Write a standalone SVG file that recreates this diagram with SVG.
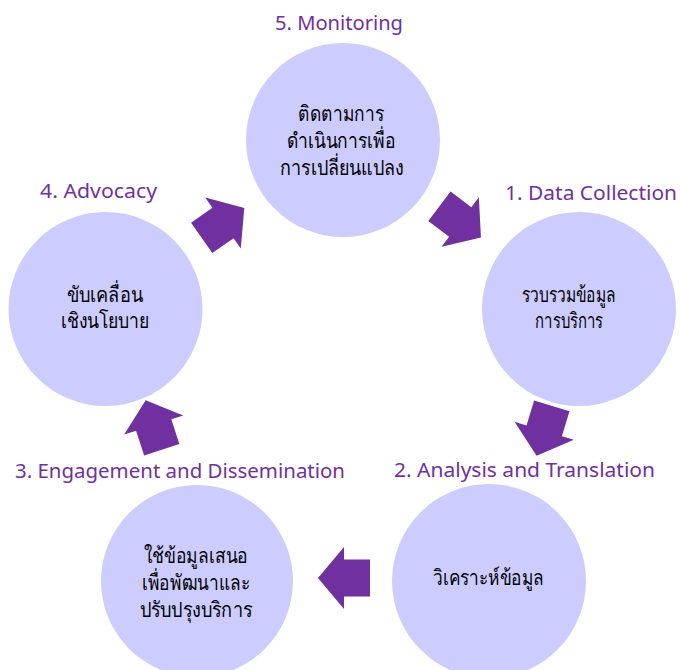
<svg xmlns="http://www.w3.org/2000/svg" xmlns:xlink="http://www.w3.org/1999/xlink" width="680" height="670" viewBox="0 0 680 670">
  <style>
    .node { fill: #CCCCFF; }
    .label { font-family: "Noto Sans", "Open Sans", sans-serif; font-size: 20px; fill: #7030A0; }
    .th { font-family: "Noto Sans", "DejaVu Sans", sans-serif; font-size: 21px; fill: #000000; text-anchor: middle; }
    .arrow { fill: #7030A0; }
  </style>
  <defs>
    <polygon id="arrow" points="-26,-18.5 0,-18.5 0,-31 26,0 0,31 0,18.5 -26,18.5"/>
  </defs>
  <rect width="680" height="670" fill="#FFFFFF"/>
  <g id="connectors" class="arrow">
    <use xlink:href="#arrow" transform="translate(460.2,221.9) rotate(37)"/>
    <use xlink:href="#arrow" transform="translate(544.2,430.8) rotate(107)"/>
    <use xlink:href="#arrow" transform="translate(344,578) rotate(180)"/>
    <use xlink:href="#arrow" transform="translate(153.7,425) rotate(252)"/>
    <use xlink:href="#arrow" transform="translate(223,223) rotate(325)"/>
  </g>
  <g id="node-monitoring">
    <circle class="node" cx="343" cy="140" r="97"/>
    <text class="label" x="275" y="30" textLength="128" lengthAdjust="spacingAndGlyphs">5. Monitoring</text>
    <text class="th" x="341" y="121" textLength="86" lengthAdjust="spacingAndGlyphs">ติดตามการ</text>
    <text class="th" x="341" y="148" textLength="109" lengthAdjust="spacingAndGlyphs">ดำเนินการเพื่อ</text>
    <text class="th" x="342" y="175" textLength="124" lengthAdjust="spacingAndGlyphs">การเปลี่ยนแปลง</text>
  </g>
  <g id="node-data-collection">
    <circle class="node" cx="579" cy="309" r="97"/>
    <text class="label" x="505" y="200" textLength="172" lengthAdjust="spacingAndGlyphs">1. Data Collection</text>
    <text class="th" x="569" y="302" textLength="94" lengthAdjust="spacingAndGlyphs">รวบรวมข้อมูล</text>
    <text class="th" x="569" y="328" textLength="68" lengthAdjust="spacingAndGlyphs">การบริการ</text>
  </g>
  <g id="node-analysis">
    <circle class="node" cx="489" cy="581" r="97"/>
    <text class="label" x="394" y="477" textLength="261" lengthAdjust="spacingAndGlyphs">2. Analysis and Translation</text>
    <text class="th" x="488.5" y="585" textLength="111" lengthAdjust="spacingAndGlyphs">วิเคราะห์ข้อมูล</text>
  </g>
  <g id="node-engagement">
    <circle class="node" cx="197" cy="581" r="96"/>
    <text class="label" x="15" y="478" textLength="330" lengthAdjust="spacingAndGlyphs">3. Engagement and Dissemination</text>
    <text class="th" x="196" y="563" textLength="104" lengthAdjust="spacingAndGlyphs">ใช้ข้อมูลเสนอ</text>
    <text class="th" x="196" y="590" textLength="108" lengthAdjust="spacingAndGlyphs">เพื่อพัฒนาและ</text>
    <text class="th" x="196" y="617" textLength="113" lengthAdjust="spacingAndGlyphs">ปรับปรุงบริการ</text>
  </g>
  <g id="node-advocacy">
    <circle class="node" cx="105.5" cy="309" r="97"/>
    <text class="label" x="40" y="198" textLength="117" lengthAdjust="spacingAndGlyphs">4. Advocacy</text>
    <text class="th" x="105" y="302" textLength="76" lengthAdjust="spacingAndGlyphs">ขับเคลื่อน</text>
    <text class="th" x="105" y="328" textLength="88" lengthAdjust="spacingAndGlyphs">เชิงนโยบาย</text>
  </g>
</svg>
